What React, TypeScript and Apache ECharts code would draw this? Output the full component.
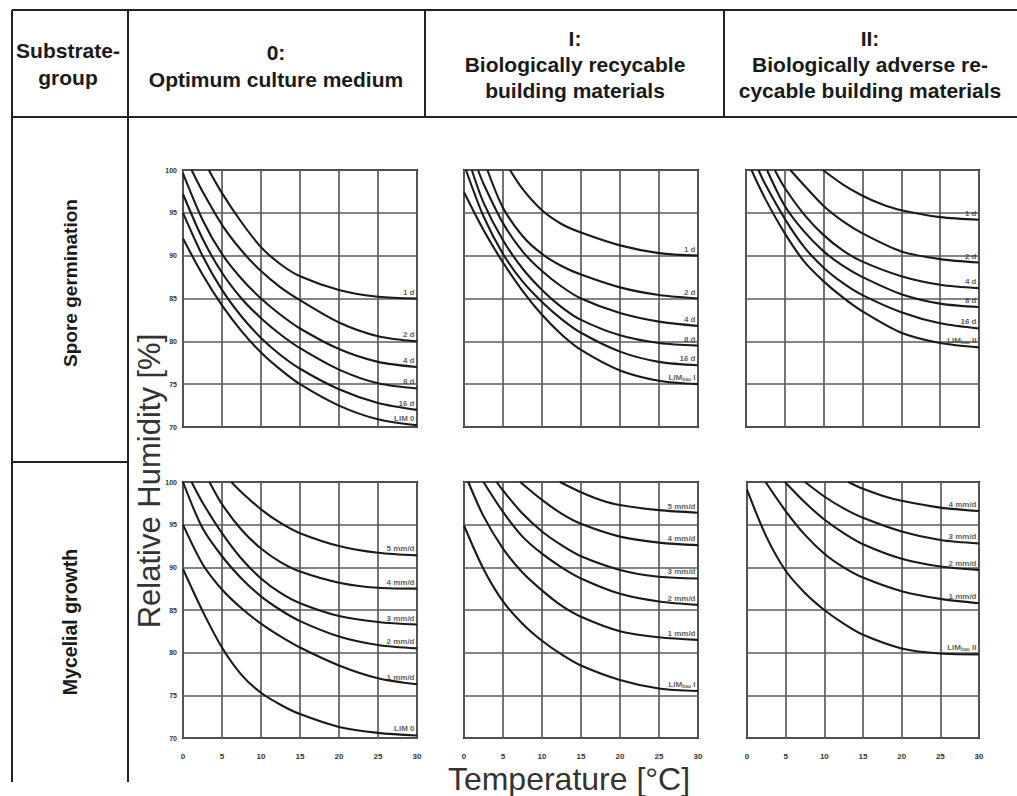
import React, { useEffect, useRef } from "react";
import * as echarts from "echarts";

// ---------- tick labels ----------
const xTicks = [0, 5, 10, 15, 20, 25, 30];
const yTicks = [70, 75, 80, 85, 90, 95, 100];

// ---------- header / row texts ----------
const headerGroup = ["Substrate-", "group"];
const header0 = ["0:", "Optimum culture medium"];
const header1 = ["I:", "Biologically recycable", "building materials"];
const header2 = ["II:", "Biologically adverse re-", "cycable building materials"];
const rowLabels = ["Spore germination", "Mycelial growth"];
const yTitle = "Relative Humidity [%]";
const xTitle = "Temperature [°C]";

// ---------- Spore germination, group 0 ----------
const sg0Names = ["1 d", "2 d", "4 d", "8 d", "16 d", "LIM 0"];
const sg0_1d = [[3.3, 100], [5, 97.3], [7.5, 93.9], [10, 91.0], [12.5, 89.0], [15, 87.6], [20, 86.0], [25, 85.2], [30, 85.0]];
const sg0_2d = [[1.1, 100], [2.5, 97.5], [5, 93.6], [7.5, 90.6], [10, 88.2], [12.5, 86.3], [15, 84.8], [20, 82.2], [25, 80.6], [30, 80.0]];
const sg0_4d = [[0, 99.6], [2.5, 94.2], [5, 90.2], [7.5, 87.3], [10, 85.0], [12.5, 83.1], [15, 81.5], [20, 79.1], [25, 77.6], [30, 77.0]];
const sg0_8d = [[0, 97.2], [2.5, 92.0], [5, 88.0], [7.5, 85.0], [10, 82.7], [12.5, 80.8], [15, 79.2], [20, 76.7], [25, 75.1], [30, 74.5]];
const sg0_16d = [[0, 95.0], [2.5, 90.0], [5, 86.0], [7.5, 82.9], [10, 80.4], [12.5, 78.4], [15, 76.8], [20, 74.4], [25, 72.8], [30, 72.0]];
const sg0_lim = [[0, 92.0], [2.5, 87.8], [5, 84.2], [7.5, 81.2], [10, 78.7], [12.5, 76.7], [15, 75.0], [20, 72.5], [25, 70.9], [30, 70.2]];

// ---------- Spore germination, group I ----------
const sg1Names = ["1 d", "2 d", "4 d", "8 d", "16 d", "LIM_bau I"];
const sg1_1d = [[5.9, 100], [7.5, 97.8], [10, 95.3], [12.5, 93.7], [15, 92.7], [20, 91.2], [25, 90.3], [30, 90.0]];
const sg1_2d = [[3.0, 100], [5, 95.6], [7.5, 92.3], [10, 90.2], [12.5, 88.8], [15, 87.8], [20, 86.3], [25, 85.4], [30, 85.0]];
const sg1_4d = [[1.8, 100], [2.5, 98.4], [5, 93.8], [7.5, 90.5], [10, 88.2], [12.5, 86.4], [15, 85.0], [20, 83.3], [25, 82.3], [30, 81.8]];
const sg1_8d = [[1.0, 100], [2.5, 96.2], [5, 91.8], [7.5, 88.5], [10, 86.0], [12.5, 84.0], [15, 82.5], [20, 80.7], [25, 79.8], [30, 79.5]];
const sg1_16d = [[0.25, 100], [2.5, 94.6], [5, 90.2], [7.5, 87.0], [10, 84.6], [12.5, 82.6], [15, 81.0], [20, 78.8], [25, 77.6], [30, 77.2]];
const sg1_lim = [[0, 97.4], [2.5, 93.0], [5, 89.2], [7.5, 85.9], [10, 83.1], [12.5, 80.8], [15, 79.0], [20, 76.6], [25, 75.4], [30, 75.0]];

// ---------- Spore germination, group II ----------
const sg2Names = ["1 d", "2 d", "4 d", "8 d", "16 d", "LIM_bau II"];
const sg2_1d = [[9.9, 100], [12.5, 98.3], [15, 97.0], [17.5, 96.0], [20, 95.3], [25, 94.5], [30, 94.2]];
const sg2_2d = [[5.7, 100], [7.5, 98.2], [10, 95.8], [12.5, 94.0], [15, 92.6], [20, 90.5], [25, 89.6], [30, 89.2]];
const sg2_4d = [[3.7, 100], [5, 97.9], [7.5, 94.8], [10, 92.4], [12.5, 90.6], [15, 89.3], [20, 87.6], [25, 86.6], [30, 86.2]];
const sg2_8d = [[2.7, 100], [5, 95.8], [7.5, 92.8], [10, 90.5], [12.5, 88.8], [15, 87.5], [20, 85.5], [25, 84.4], [30, 84.0]];
const sg2_16d = [[1.6, 100], [2.5, 98.3], [5, 94.3], [7.5, 91.0], [10, 88.6], [12.5, 86.8], [15, 85.4], [20, 83.4], [25, 82.1], [30, 81.5]];
const sg2_lim = [[0.7, 100], [2.5, 96.6], [5, 92.6], [7.5, 89.3], [10, 87.0], [12.5, 85.1], [15, 83.5], [20, 81.0], [25, 79.8], [30, 79.3]];

// ---------- Mycelial growth, group 0 ----------
const mg0Names = ["5 mm/d", "4 mm/d", "3 mm/d", "2 mm/d", "1 mm/d", "LIM 0"];
const mg0_5 = [[6.2, 100], [7.5, 98.8], [10, 96.8], [12.5, 95.2], [15, 94.0], [20, 92.5], [25, 91.7], [30, 91.4]];
const mg0_4 = [[3.4, 100], [5, 97.4], [7.5, 94.4], [10, 92.2], [12.5, 90.6], [15, 89.5], [20, 88.2], [25, 87.6], [30, 87.5]];
const mg0_3 = [[1.1, 100], [2.5, 97.6], [5, 94.0], [7.5, 91.0], [10, 88.7], [12.5, 87.0], [15, 85.8], [20, 84.3], [25, 83.6], [30, 83.3]];
const mg0_2 = [[0, 100], [2.5, 94.6], [5, 91.3], [7.5, 88.7], [10, 86.6], [12.5, 85.0], [15, 83.7], [20, 81.9], [25, 80.9], [30, 80.5]];
const mg0_1 = [[0, 95.0], [2.5, 90.4], [5, 87.4], [7.5, 85.2], [10, 83.4], [12.5, 81.9], [15, 80.6], [20, 78.5], [25, 77.0], [30, 76.3]];
const mg0_lim = [[0, 89.8], [2.5, 84.9], [5, 80.6], [7.5, 77.4], [10, 75.3], [12.5, 73.9], [15, 72.8], [20, 71.3], [25, 70.6], [30, 70.3]];

// ---------- Mycelial growth, group I ----------
const mg1Names = ["5 mm/d", "4 mm/d", "3 mm/d", "2 mm/d", "1 mm/d", "LIM_bau I"];
const mg1_5 = [[12.3, 100], [15, 98.8], [17.5, 97.9], [20, 97.3], [25, 96.7], [30, 96.4]];
const mg1_4 = [[7.2, 100], [10, 97.9], [12.5, 96.3], [15, 95.1], [20, 93.6], [25, 92.9], [30, 92.6]];
const mg1_3 = [[4.2, 100], [5, 99.0], [7.5, 96.3], [10, 94.2], [12.5, 92.6], [15, 91.3], [20, 89.7], [25, 88.9], [30, 88.7]];
const mg1_2 = [[2.5, 100], [5, 96.5], [7.5, 93.6], [10, 91.6], [12.5, 90.0], [15, 88.7], [20, 86.9], [25, 86.0], [30, 85.6]];
const mg1_1 = [[0.55, 100], [2.5, 96.0], [5, 92.2], [7.5, 89.4], [10, 87.3], [12.5, 85.5], [15, 84.2], [20, 82.5], [25, 81.8], [30, 81.5]];
const mg1_lim = [[0, 94.9], [2.5, 89.8], [5, 86.0], [7.5, 83.4], [10, 81.4], [12.5, 79.8], [15, 78.5], [20, 76.8], [25, 75.8], [30, 75.5]];

// ---------- Mycelial growth, group II ----------
const mg2Names = ["4 mm/d", "3 mm/d", "2 mm/d", "1 mm/d", "LIM_bau II"];
const mg2_4 = [[13.1, 100], [15, 99.2], [17.5, 98.4], [20, 97.8], [25, 97.0], [30, 96.6]];
const mg2_3 = [[7.5, 100], [10, 98.3], [12.5, 96.9], [15, 95.8], [20, 94.2], [25, 93.2], [30, 92.8]];
const mg2_2 = [[4.9, 100], [7.5, 97.6], [10, 95.6], [12.5, 94.0], [15, 92.7], [20, 91.0], [25, 90.1], [30, 89.7]];
const mg2_1 = [[2.4, 100], [5, 96.6], [7.5, 93.8], [10, 91.6], [12.5, 90.0], [15, 88.8], [20, 87.2], [25, 86.3], [30, 85.8]];
const mg2_lim = [[0, 99.1], [2.5, 93.6], [5, 89.6], [7.5, 87.0], [10, 85.0], [12.5, 83.4], [15, 82.1], [20, 80.5], [25, 79.9], [30, 79.8]];

const FONT = '"Liberation Sans", Arial, Helvetica, sans-serif';

// panel layout (pixel rects)
const panelRects = [
  { left: 183, top: 170, width: 234, height: 257 },
  { left: 464, top: 170, width: 234, height: 257 },
  { left: 746, top: 170, width: 233, height: 257 },
  { left: 183, top: 482, width: 234, height: 256 },
  { left: 464, top: 482, width: 234, height: 256 },
  { left: 747, top: 482, width: 232, height: 256 },
];

const panels = [
  { names: sg0Names, curves: [sg0_1d, sg0_2d, sg0_4d, sg0_8d, sg0_16d, sg0_lim], yLabels: true, xLabels: false },
  { names: sg1Names, curves: [sg1_1d, sg1_2d, sg1_4d, sg1_8d, sg1_16d, sg1_lim], yLabels: false, xLabels: false },
  { names: sg2Names, curves: [sg2_1d, sg2_2d, sg2_4d, sg2_8d, sg2_16d, sg2_lim], yLabels: false, xLabels: false },
  { names: mg0Names, curves: [mg0_5, mg0_4, mg0_3, mg0_2, mg0_1, mg0_lim], yLabels: true, xLabels: true },
  { names: mg1Names, curves: [mg1_5, mg1_4, mg1_3, mg1_2, mg1_1, mg1_lim], yLabels: false, xLabels: true },
  { names: mg2Names, curves: [mg2_4, mg2_3, mg2_2, mg2_1, mg2_lim], yLabels: false, xLabels: true },
];

function richLabel(name: string): string {
  const m = name.match(/^LIM_bau (.*)$/);
  if (m) return `{n|LIM}{s|bau}{n| ${m[1]}}`;
  return `{n|${name}}`;
}

const noBorder = { textBorderWidth: 0, textBorderColor: "transparent", textShadowBlur: 0 };

function buildOption(): any {
  const grid: any[] = [];
  const xAxis: any[] = [];
  const yAxis: any[] = [];
  const series: any[] = [];

  panels.forEach((p, i) => {
    grid.push({ ...panelRects[i], show: true, borderColor: "#2a2a2a", borderWidth: 2, backgroundColor: "transparent" });
    xAxis.push({
      type: "value", gridIndex: i, min: 0, max: 30, interval: 5,
      axisLine: { show: false }, axisTick: { show: false },
      splitLine: { show: true, lineStyle: { color: "#5c5c5c", width: 1.7 } },
      axisLabel: {
        show: p.xLabels, margin: 14, fontSize: 8, fontWeight: "bold", color: "#333", fontFamily: FONT,
        formatter: (v: number) => (xTicks.includes(v) ? String(v) : ""),
      },
    });
    yAxis.push({
      type: "value", gridIndex: i, min: 70, max: 100, interval: 5,
      axisLine: { show: false }, axisTick: { show: false },
      splitLine: { show: true, lineStyle: { color: "#5c5c5c", width: 1.7 } },
      axisLabel: {
        show: p.yLabels, margin: 6, fontSize: 7, fontWeight: "bold", color: "#333", fontFamily: FONT,
        formatter: (v: number) => (yTicks.includes(v) ? String(v) : ""),
      },
    });
    p.curves.forEach((c, j) => {
      series.push({
        type: "line", name: `${i}-${p.names[j]}`, xAxisIndex: i, yAxisIndex: i,
        data: c, smooth: 0.3, showSymbol: false, silent: true,
        color: "#1a1a1a",
        lineStyle: { color: "#1a1a1a", width: 2.1 },
      });
    });
    series.push({
      type: "scatter", xAxisIndex: i, yAxisIndex: i, symbolSize: 1, silent: true,
      color: "#333",
      itemStyle: { color: "rgba(255,255,255,0)" },
      data: p.curves.map((c, j) => ({ name: p.names[j], value: c[c.length - 1] })),
      label: {
        show: true, position: [-2, -2], align: "right", verticalAlign: "bottom",
        formatter: (d: any) => richLabel(d.name), color: "#333", ...noBorder,
        rich: {
          n: { fontSize: 8, fontWeight: "bold", color: "#333", fontFamily: FONT, ...noBorder },
          s: { fontSize: 5, fontWeight: "bold", color: "#333", fontFamily: FONT, padding: [4, 0, 0, 0], ...noBorder },
        },
      },
    });
  });

  const L = (x1: number, y1: number, x2: number, y2: number) => ({
    type: "line", shape: { x1, y1, x2, y2 }, style: { stroke: "#222", lineWidth: 2 }, silent: true,
  });
  const T = (text: string, x: number, y: number, size: number, weight: string, rotation = 0, fill = "#1a1a1a") => ({
    type: "text", x, y, rotation, silent: true,
    style: { text, x: 0, y: 0, fill, fontSize: size, fontWeight: weight, fontFamily: FONT, align: "center", verticalAlign: "middle" },
  });

  const graphic: any[] = [
    L(12, 10, 1017, 10), L(12, 117, 1017, 117),
    L(12, 10, 12, 782), L(128, 10, 128, 782),
    L(425, 10, 425, 117), L(724, 10, 724, 117),
    L(12, 462, 128, 462),
  ];
  headerGroup.forEach((t, k) => graphic.push(T(t, 68, 50 + k * 27, 21, "bold")));
  header0.forEach((t, k) => graphic.push(T(t, 276, 52 + k * 27, 21, "bold")));
  header1.forEach((t, k) => graphic.push(T(t, 575, 38 + k * 26, 21, "bold")));
  header2.forEach((t, k) => graphic.push(T(t, 870, 38 + k * 26, 21, "bold")));
  graphic.push(T(rowLabels[0], 70, 283, 19, "bold", Math.PI / 2));
  graphic.push(T(rowLabels[1], 70, 622, 19.5, "bold", Math.PI / 2));
  graphic.push(T(yTitle, 149, 481, 31, "normal", Math.PI / 2, "#333"));
  graphic.push(T(xTitle, 569, 778.5, 32, "normal", 0, "#333"));

  return { animation: false, backgroundColor: "#fff", grid, xAxis, yAxis, series, graphic };
}

export default function App() {
  const ref = useRef<HTMLDivElement>(null);
  useEffect(() => {
    document.body.style.margin = "0";
    const chart = echarts.init(ref.current!, null, { renderer: "svg" });
    chart.setOption(buildOption());
    return () => chart.dispose();
  }, []);
  return <div ref={ref} style={{ width: 1017, height: 796, background: "#fff" }} />;
}
